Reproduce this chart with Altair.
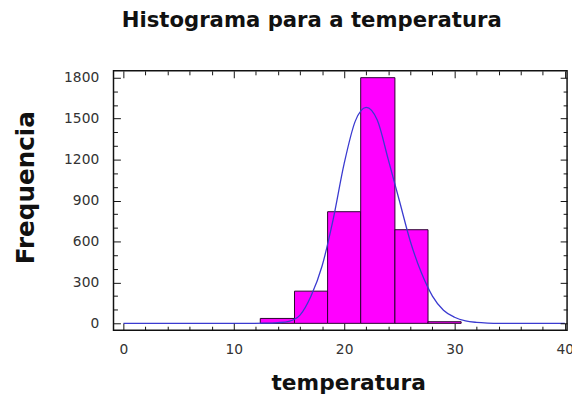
import altair as alt
import pandas as pd

# Histogram bins
bin_start = [12.4, 15.5, 18.5, 21.5, 24.6, 27.6]
bin_end = [15.5, 18.5, 21.5, 24.6, 27.6, 30.6]
counts = [36, 236, 818, 1800, 686, 12]

# Fitted curve points
curve_x = [0, 5, 10, 13, 14, 15, 16, 17, 18, 19, 20, 21, 22, 23, 24, 25, 26, 27, 28, 29, 30, 31, 32, 33, 34, 40]
curve_y = [0, 0, 0, 1, 5, 15, 60, 200, 420, 760, 1170, 1480, 1583, 1490, 1200, 900, 600, 370, 200, 96, 45, 18, 7, 2, 0, 0]

x_major = [0, 10, 20, 30, 40]
x_minor = [2, 4, 6, 8, 12, 14, 16, 18, 22, 24, 26, 28, 32, 34, 36, 38]
y_major = [0, 300, 600, 900, 1200, 1500, 1800]
y_minor = [100, 200, 400, 500, 700, 800, 1000, 1100, 1300, 1400, 1600, 1700]

bars_df = pd.DataFrame({"start": bin_start, "end": bin_end, "count": counts})
curve_df = pd.DataFrame({"cx": curve_x, "cy": curve_y})

xscale = alt.Scale(domain=[-0.9, 40.2], nice=False, zero=False)
yscale = alt.Scale(domain=[-50, 1850], nice=False, zero=False)

FONT = "DejaVu Sans"
MAJ = 7
MIN = 4


def ax(orient, values, size, labels=False, title=None, **kw):
    return alt.Axis(
        orient=orient, values=values, tickSize=size, offset=-size,
        domain=False, grid=False, labels=labels, title=title,
        tickColor="#111", tickWidth=1, zindex=1, **kw)


axis_bottom = ax("bottom", x_major, MAJ, labels=True, title="temperatura",
                 format="d",
                 labelFont=FONT, labelFontSize=14, labelColor="#333",
                 labelPadding=13,
                 titleFont=FONT, titleFontSize=22, titleFontWeight="bold",
                 titleColor="#111", titleX=238, titleY=67,
                 titleBaseline="alphabetic", titleAlign="center")
axis_left = ax("left", y_major, MAJ, labels=True, title="Frequencia",
               format="d",
               labelFont=FONT, labelFontSize=14, labelColor="#333",
               labelPadding=15,
               titleFont=FONT, titleFontSize=25, titleFontWeight="bold",
               titleColor="#111", titleX=-96, titleY=118, titleAngle=270,
               titleBaseline="middle", titleAlign="center")

bars = alt.Chart(bars_df).mark_rect(
    fill="#ff00ff", stroke="#2a0030", strokeWidth=1
).encode(
    x=alt.X("start:Q", scale=xscale, axis=axis_bottom),
    x2="end:Q",
    y=alt.Y("count:Q", scale=yscale, axis=axis_left),
    y2=alt.datum(0),
)

curve = alt.Chart(curve_df).mark_line(
    color="#3a3ad0", strokeWidth=1.3, interpolate="monotone"
).encode(
    x=alt.X("cx:Q", scale=xscale, axis=ax("top", x_major, MAJ)),
    y=alt.Y("cy:Q", scale=yscale, axis=ax("right", y_major, MAJ)),
)

minor1 = alt.Chart(curve_df).mark_line(opacity=0).encode(
    x=alt.X("cx:Q", scale=xscale, axis=ax("bottom", x_minor, MIN)),
    y=alt.Y("cy:Q", scale=yscale, axis=ax("left", y_minor, MIN)),
)
minor2 = alt.Chart(curve_df).mark_line(opacity=0).encode(
    x=alt.X("cx:Q", scale=xscale, axis=ax("top", x_minor, MIN)),
    y=alt.Y("cy:Q", scale=yscale, axis=ax("right", y_minor, MIN)),
)

chart = alt.layer(bars, curve, minor1, minor2).resolve_axis(
    x="independent", y="independent"
).properties(
    width=460,
    height=263,
    title=alt.Title(
        "Histograma para a temperatura", font=FONT, fontSize=21.5,
        fontWeight="bold", color="#111", anchor="middle", dx=-29,
        offset=22, baseline="alphabetic"),
    autosize=alt.AutoSizeParams(type="none"),
    padding={"left": 107, "top": 61, "right": 5, "bottom": 64},
).configure_view(stroke="#111", strokeWidth=1.5)

chart.save("out.html", embed_options={"renderer": "svg", "actions": False})
